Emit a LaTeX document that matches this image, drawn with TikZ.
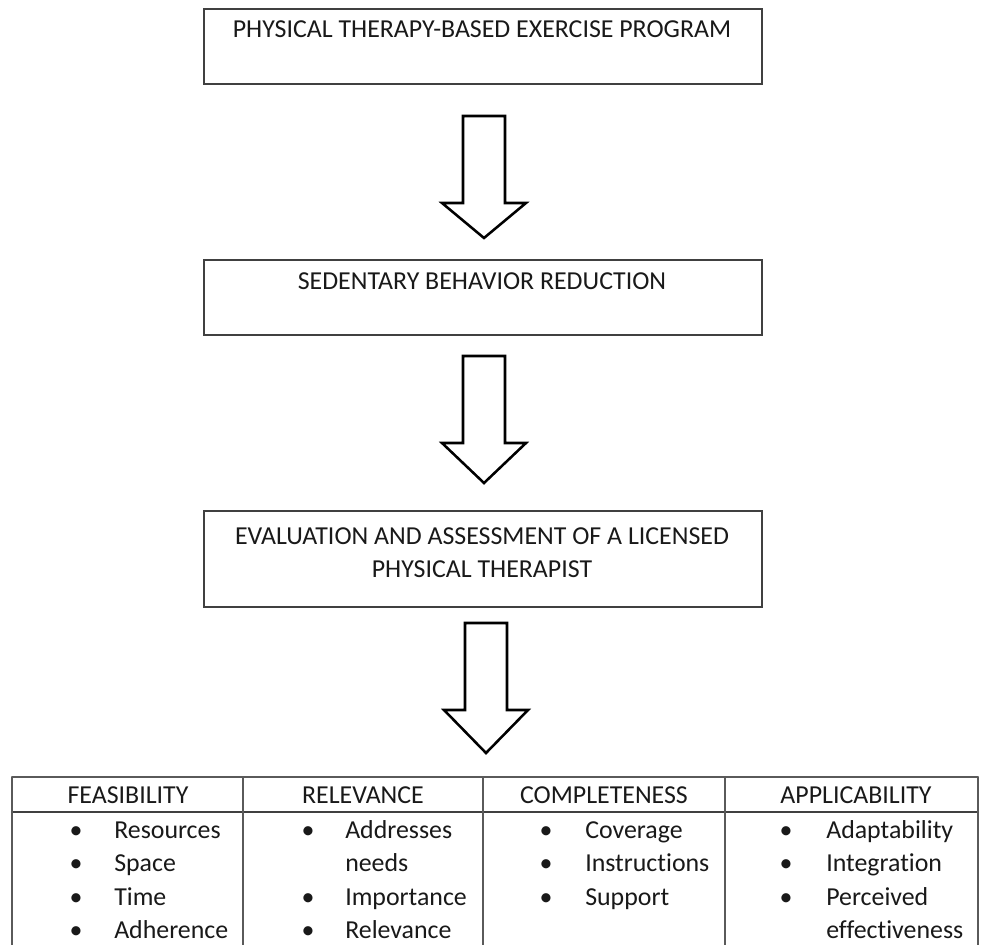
\documentclass[tikz,border=0pt]{standalone}
\usepackage{fontspec}
\setmainfont{Carlito}[Ligatures=NoCommon]
\usetikzlibrary{positioning}

\definecolor{inkgray}{HTML}{404040}
\definecolor{rulegray}{HTML}{5A5A5A}

\tikzset{
  flowbox/.style={draw=inkgray, line width=1.5pt, anchor=north west, inner sep=0pt, minimum width=418.5pt},
  boxtext/.style={inner sep=0pt, text=black!90, font=\fontsize{19.4}{24.75}\selectfont},
  hollowarrow/.style={draw=black, line width=1.9pt, line join=miter, fill=white},
  tableline/.style={draw=rulegray, line width=1.1pt},
  headrule/.style={draw=black!75, line width=1.6pt},
  celltext/.style={inner sep=0pt, text=black!90, font=\fontsize{19.4}{24}\selectfont}
}

% x, top of shaft, base of head, tip
\newcommand{\blockarrow}[4]{%
  \draw[hollowarrow] (#1-21,#2) -- (#1+21,#2) -- (#1+21,#3) -- (#1+42,#3)
    -- (#1,#4) -- (#1-42,#3) -- (#1-21,#3) -- cycle;}

\begin{document}
\begin{tikzpicture}[x=0.75pt, y=-0.75pt, line cap=round]
	\useasboundingbox (0,0) rectangle (992,945);

	% the three stages
	\node[flowbox, minimum height=56.25pt] (program) at (203,8) {};
	\node[boxtext, anchor=base] (programtext) at (482,38) {PHYSICAL THERAPY-BASED EXERCISE PROGRAM};

	\node[flowbox, minimum height=56.25pt] (sedentary) at (203,259) {};
	\node[boxtext, anchor=base] (sedentarytext) at (482,289) {SEDENTARY BEHAVIOR REDUCTION};

	\node[flowbox, minimum height=72pt] (evaluation) at (203,510) {};
	\node[boxtext, anchor=north, align=center] (evaluationtext) at (482,527) {EVALUATION AND ASSESSMENT OF A LICENSED\\PHYSICAL THERAPIST};

	% block arrows
	\blockarrow{484}{116}{203}{238}
	\blockarrow{484}{356}{443}{483}
	\blockarrow{486}{623}{710}{753}

	% criteria table
	\draw[tableline] (12,777) -- (978,777);
	\draw[headrule] (12,812) -- (978,812);
	\foreach \x in {12,243,483,725,978}
		\draw[tableline] (\x,777) -- (\x,945);

	\node[celltext, anchor=base] (feasibility) at (128,803) {FEASIBILITY};
	\node[celltext, anchor=base] (relevance) at (363,803) {RELEVANCE};
	\node[celltext, anchor=base] (completeness) at (604,803) {COMPLETENESS};
	\node[celltext, anchor=base] (applicability) at (856,803) {APPLICABILITY};

	\foreach \bx/\tx/\r/\word/\dot in {
		76/114/0/Resources/1, 76/114/1/Space/1, 76/114/2/Time/1, 76/114/3/Adherence/1,
		308/345/0/Addresses/1, 308/345/1/needs/0, 308/345/2/Importance/1, 308/345/3/Relevance/1,
		546/585/0/Coverage/1, 546/585/1/Instructions/1, 546/585/2/Support/1,
		786/826/0/Adaptability/1, 786/826/1/Integration/1, 786/826/2/Perceived/1, 786/826/3/effectiveness/0}
	{
		\node[celltext, anchor=base west] (item-\word) at (\tx,{838+33.6*\r}) {\word};
		\ifnum\dot=1
			\node[celltext, anchor=base] (dot-\word) at (\bx,{838+33.6*\r}) {\textbullet};
		\fi
	}
\end{tikzpicture}
\end{document}
